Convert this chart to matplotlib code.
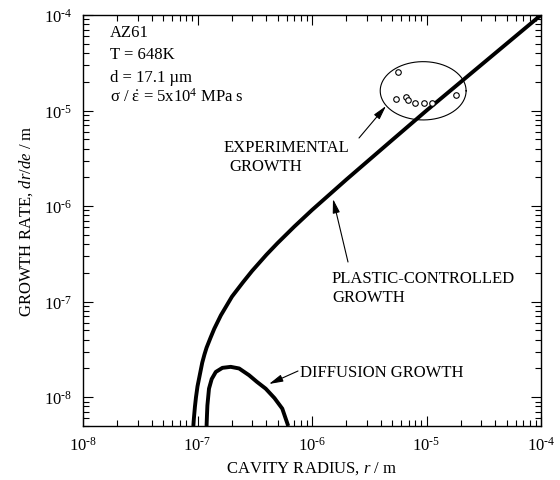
import numpy as np
import matplotlib
matplotlib.use("Agg")
import matplotlib.pyplot as plt
from matplotlib.ticker import LogLocator, NullFormatter, FuncFormatter

plt.rcParams["font.family"] = ["Liberation Serif", "DejaVu Serif"]
plt.rcParams["mathtext.fontset"] = "custom"
plt.rcParams["mathtext.rm"] = "Liberation Serif"
plt.rcParams["mathtext.it"] = "Liberation Serif:italic"
plt.rcParams["mathtext.bf"] = "Liberation Serif:bold"
plt.rcParams["font.size"] = 12

# Plastic-controlled cavity growth
plastic_r = [9.2e-8, 9.3e-8, 9.5e-8, 9.7e-8, 1.0e-7, 1.1e-7, 1.15e-7, 1.2e-7, 1.3e-7,
             1.4e-7, 1.6e-7, 2.0e-7, 2.5e-7, 3.0e-7, 4.0e-7, 5.0e-7, 7.0e-7,
             1.0e-6, 2.0e-6, 5.0e-6, 1.0e-5, 1.0e-4]
plastic_rate = [5.0e-9, 6.0e-9, 8.0e-9, 1.0e-8, 1.3e-8, 2.3e-8, 2.8e-8, 3.3e-8, 4.2e-8,
                5.2e-8, 7.2e-8, 1.13e-7, 1.6e-7, 2.1e-7, 3.1e-7, 4.1e-7, 6.1e-7,
                9.1e-7, 1.9e-6, 4.9e-6, 1.0e-5, 1.0e-4]

# Diffusion-controlled cavity growth
diff_r = [1.20e-7, 1.21e-7, 1.22e-7, 1.26e-7, 1.33e-7, 1.445e-7, 1.65e-7, 1.95e-7,
          2.31e-7, 2.82e-7, 3.3e-7, 3.94e-7, 4.7e-7, 5.5e-7, 6.2e-7]
diff_rate = [5.0e-9, 6.5e-9, 8.2e-9, 1.23e-8, 1.55e-8, 1.84e-8, 2.03e-8, 2.08e-8,
             2.0e-8, 1.7e-8, 1.45e-8, 1.23e-8, 9.8e-9, 7.6e-9, 5.0e-9]

# Experimentally measured growth rates
exp_r = [5.66e-6, 5.37e-6, 6.6e-6, 6.92e-6, 7.91e-6, 9.48e-6, 1.11e-5, 1.80e-5]
exp_rate = [2.51e-5, 1.32e-5, 1.40e-5, 1.29e-5, 1.19e-5, 1.19e-5, 1.19e-5, 1.45e-5]

fig = plt.figure(figsize=(5.6, 4.81), dpi=100)
ax = fig.add_axes([83 / 560, 1 - 427 / 481, 458 / 560, 411 / 481])
ax.set_xscale("log")
ax.set_yscale("log")
ax.set_xlim(1e-8, 1e-4)
ax.set_ylim(5e-9, 1e-4)

ax.plot(plastic_r, plastic_rate, color="black", lw=2.8, solid_capstyle="butt")
ax.plot(diff_r, diff_rate, color="black", lw=2.8, solid_capstyle="butt")
ax.plot(exp_r, exp_rate, "o", ms=4.0, mfc="white", mec="black", mew=0.8, zorder=3)

# ellipse grouping the experimental points (log-space)
th = np.linspace(0, 2 * np.pi, 300)
cx, cy, a, b = np.log10(9.35e-6), np.log10(1.61e-5), 0.375, 0.305
ax.plot(10 ** (cx + a * np.cos(th)), 10 ** (cy + b * np.sin(th)), color="black", lw=0.8)


def decade_label(v, pos):
    # power-of-ten label with a short hyphen as the exponent sign
    e = int(round(np.log10(v)))
    sign = "\\text{-}" if e < 0 else ""
    return "$10^{%s%d}$" % (sign, abs(e))


for axis in (ax.xaxis, ax.yaxis):
    axis.set_major_locator(LogLocator(base=10, numticks=10))
    axis.set_major_formatter(FuncFormatter(decade_label))
    axis.set_minor_locator(LogLocator(base=10, subs=np.arange(2, 10), numticks=20))
    axis.set_minor_formatter(NullFormatter())
ax.tick_params(which="both", direction="in", top=True, right=True, width=0.8)
ax.tick_params(which="major", length=7)
ax.tick_params(which="minor", length=4)
ax.tick_params(axis="y", which="major", pad=8)
ax.tick_params(axis="x", which="major", pad=7)
for s in ax.spines.values():
    s.set_linewidth(1.0)

ax.set_xlabel("CAVITY RADIUS, $\\it{r}$ / m", labelpad=4)
ax.set_ylabel("GROWTH RATE, $\\it{dr/de}$ / m", labelpad=6)


def af(px, py):
    return ((px - 83) / 458, (427 - py) / 411)


info = ["AZ61", "T = 648K", "d = 17.1 \u00b5m",
        "$\\mathrm{\\sigma}$ / $\\dot{\\mathrm{\\varepsilon}}$ = 5x10$^{4}$ MPa s"]
for txt, py in zip(info, [37, 59, 82, 102]):
    ax.text(*af(110, py), txt, transform=ax.transAxes, ha="left", va="baseline")

ax.text(*af(224, 152), "EXPERIMENTAL", transform=ax.transAxes, va="baseline")
ax.text(*af(229, 171), "GROWTH", transform=ax.transAxes, va="baseline")
ax.text(*af(332, 283), "PLASTIC-CONTROLLED", transform=ax.transAxes, va="baseline")
ax.text(*af(332, 302), "GROWTH", transform=ax.transAxes, va="baseline")
ax.text(*af(300, 377), "DIFFUSION GROWTH", transform=ax.transAxes, va="baseline")

arrow = dict(arrowstyle="-|>,head_length=0.7,head_width=0.18", lw=0.8,
             color="black", shrinkA=0, shrinkB=0)
ax.annotate("", xy=af(386, 107), xytext=af(359, 139), xycoords="axes fraction",
            textcoords="axes fraction", arrowprops=arrow)
ax.annotate("", xy=af(333, 200), xytext=af(348, 263), xycoords="axes fraction",
            textcoords="axes fraction", arrowprops=arrow)
ax.annotate("", xy=af(269, 385), xytext=af(298, 372), xycoords="axes fraction",
            textcoords="axes fraction", arrowprops=arrow)

fig.savefig("out.png", dpi=100)
